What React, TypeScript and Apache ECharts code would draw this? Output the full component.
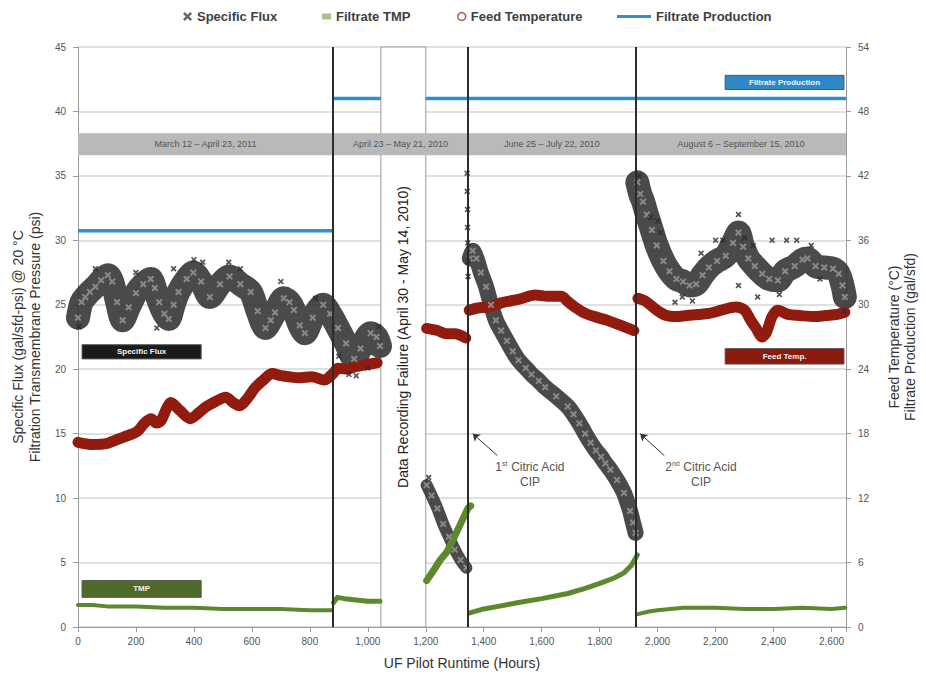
import React, { useEffect, useRef } from "react";
import * as echarts from "echarts";

// ---------- data (hours, value) ----------
const fluxSeg1: [number, number][] = [
  [0, 24.0], [12, 25.2], [25, 25.6], [41, 26.0], [60, 26.4], [80, 26.9], [103, 27.3], [118, 26.8],
  [135, 25.2], [154, 23.8], [175, 24.8], [200, 25.9], [225, 26.6], [251, 27.0], [265, 26.3], [280, 25.2],
  [298, 24.3], [313, 23.9], [330, 25.0], [347, 26.0], [375, 27.0], [398, 27.5], [425, 26.8], [455, 25.6],
  [490, 26.6], [523, 27.2], [560, 26.6], [596, 26.0], [620, 24.5], [647, 23.2], [665, 23.8], [680, 24.4],
  [710, 25.5], [730, 25.2], [745, 24.6], [765, 23.4], [783, 22.8], [810, 24.0], [846, 25.0], [870, 24.3],
  [897, 23.2], [925, 22.0], [953, 20.8], [975, 21.6], [1010, 22.8], [1030, 22.5], [1042, 21.8],
];
const fluxSeg2: [number, number][] = [
  [1203, 11.0], [1220, 10.2], [1240, 9.2], [1260, 8.0], [1280, 7.0], [1300, 6.0], [1320, 5.2], [1340, 4.6],
];
const fluxSeg3: [number, number][] = [
  [1352, 28.6], [1362, 29.2], [1375, 28.6], [1390, 27.5], [1408, 26.4], [1425, 25.0], [1442, 23.8],
  [1460, 23.0], [1480, 22.2], [1500, 21.4], [1520, 20.7], [1545, 20.1], [1565, 19.6], [1590, 19.1],
  [1612, 18.6], [1650, 17.9], [1690, 17.1], [1710, 16.5], [1730, 15.8], [1750, 15.0], [1769, 14.3],
  [1787, 13.7], [1805, 13.2], [1820, 12.7], [1837, 12.2], [1860, 11.4], [1884, 10.4], [1905, 9.0],
  [1915, 8.1], [1924, 7.3],
];
const fluxSeg4: [number, number][] = [
  [1930, 34.5], [1940, 33.6], [1950, 33.0], [1963, 32.0], [1980, 30.8], [1997, 29.6], [2020, 28.4],
  [2041, 27.6], [2065, 27.0], [2088, 26.8], [2110, 26.5], [2133, 26.6], [2155, 27.3], [2177, 27.9],
  [2205, 28.4], [2235, 28.8], [2260, 29.8], [2279, 30.6], [2295, 29.5], [2313, 28.6], [2335, 28.0],
  [2361, 27.4], [2385, 27.0], [2415, 26.9], [2440, 27.6], [2473, 28.0], [2500, 28.5], [2517, 28.6],
  [2545, 28.0], [2575, 27.9], [2605, 27.8], [2625, 27.4], [2638, 26.5], [2646, 25.6],
];
const fluxScatter: [number, number][] = [
  [3, 23.3], [272, 23.2], [1343, 35.2], [1343, 33.8], [1344, 32.4], [1344, 31.0], [1345, 29.8],
  [1346, 28.4], [1346, 27.2], [1210, 11.6], [1936, 35.0], [1975, 31.8], [2000, 31.5], [2010, 30.6],
  [2060, 25.2], [2085, 25.6], [2120, 25.3], [2150, 29.0], [2200, 30.0], [2225, 30.0], [2279, 32.0],
  [2279, 26.5], [2300, 30.2], [2330, 29.6], [2345, 25.6], [2395, 30.0], [2420, 25.8], [2445, 30.0],
  [2480, 30.0], [2530, 29.6], [2560, 27.0], [2644, 24.5], [60, 27.8], [200, 27.5], [330, 27.8],
  [400, 28.5], [430, 28.3], [520, 28.3], [560, 27.8], [700, 26.8], [820, 25.5], [900, 21.0],
  [935, 19.6], [960, 19.5], [1000, 20.1], [1038, 23.3],
];

const tmpSeg1: [number, number][] = [
  [0, 1.7], [50, 1.7], [100, 1.6], [200, 1.6], [300, 1.5], [400, 1.5], [500, 1.4], [600, 1.4],
  [700, 1.4], [800, 1.3], [875, 1.3],
];
const tmpSeg1b: [number, number][] = [[882, 1.9], [895, 2.3], [920, 2.2], [960, 2.1], [1000, 2.0], [1042, 2.0]];
const tmpSeg2: [number, number][] = [
  [1203, 3.6], [1230, 4.5], [1250, 5.2], [1272, 5.8], [1295, 6.8], [1320, 8.0], [1345, 9.2], [1355, 9.4],
];
const tmpSeg3: [number, number][] = [
  [1352, 1.1], [1400, 1.4], [1450, 1.6], [1520, 1.9], [1600, 2.2], [1690, 2.6], [1750, 3.0],
  [1803, 3.4], [1850, 3.8], [1884, 4.2], [1910, 4.8], [1930, 5.6],
];
const tmpSeg4: [number, number][] = [
  [1932, 1.0], [1970, 1.2], [2000, 1.3], [2088, 1.5], [2200, 1.5], [2300, 1.4], [2400, 1.4],
  [2500, 1.5], [2600, 1.4], [2648, 1.5],
];

const feedSeg1: [number, number][] = [
  [0, 17.2], [50, 17.0], [102, 17.1], [130, 17.4], [160, 17.7], [204, 18.2], [230, 19.0], [252, 19.4],
  [270, 19.0], [286, 19.2], [305, 20.3], [320, 20.9], [350, 20.2], [388, 19.4], [415, 19.9], [442, 20.5],
  [475, 21.0], [510, 21.4], [535, 20.9], [558, 20.6], [585, 21.3], [612, 22.3], [640, 23.0], [670, 23.6],
  [700, 23.4], [728, 23.3], [760, 23.2], [806, 23.3], [850, 23.0], [880, 23.6], [898, 24.1], [930, 24.0],
  [952, 24.2], [990, 24.4], [1032, 24.6],
];
const feedSeg2: [number, number][] = [[1203, 27.8], [1240, 27.6], [1272, 27.3], [1300, 27.3], [1338, 26.9]];
const feedSeg3: [number, number][] = [
  [1350, 29.5], [1380, 29.7], [1420, 29.8], [1463, 30.2], [1520, 30.5], [1578, 30.9], [1620, 30.8],
  [1667, 30.8], [1690, 30.3], [1714, 29.8], [1750, 29.2], [1782, 28.9], [1820, 28.6], [1861, 28.2],
  [1890, 27.9], [1918, 27.6],
];
const feedSeg4: [number, number][] = [
  [1932, 30.6], [1960, 30.3], [1997, 29.5], [2030, 29.0], [2065, 28.9], [2100, 29.0], [2140, 29.1],
  [2177, 29.2], [2220, 29.5], [2269, 29.8], [2300, 29.5], [2320, 28.6], [2340, 27.8], [2361, 27.0],
  [2375, 27.4], [2395, 28.9], [2415, 29.5], [2450, 29.1], [2490, 29.0], [2541, 28.9], [2580, 29.0],
  [2620, 29.1], [2646, 29.3],
];

const prodSeg1: [number, number][] = [[0, 36.9], [880, 36.9]];
const prodSeg2: [number, number][] = [[880, 49.2], [1045, 49.2]];
const prodSeg3: [number, number][] = [[1200, 49.2], [2650, 49.2]];

const periodBounds = [0, 880, 1345, 1925, 2650];
const periodLabels = [
  "March 12 – April 23, 2011",
  "April 23 – May 21, 2010",
  "June 25 – July 22, 2010",
  "August 6 – September 15, 2010",
];
const cipHours = [880, 1345, 1925];
const failureRange = [1045, 1200];

const FONT = "'Liberation Sans', Arial, sans-serif";
const X_PATH = "path://M2,0L5,3L8,0L10,2L7,5L10,8L8,10L5,7L2,10L0,8L3,5L0,2Z";

function fluxBand(data: [number, number][], width: number) {
  return {
    name: "Specific Flux",
    type: "line",
    data,
    yAxisIndex: 0,
    z: 3,
    smooth: 0.3,
    symbol: X_PATH,
    symbolSize: 7,
    showSymbol: true,
    showAllSymbol: true,
    silent: true,
    itemStyle: { color: "#8a8a8a" },
    lineStyle: { color: "#2a2a2a", width, opacity: 0.85, cap: "round", join: "round" },
  };
}
function feedBand(data: [number, number][]) {
  return {
    name: "Feed Temperature",
    type: "line",
    data,
    yAxisIndex: 1,
    z: 3,
    smooth: 0.3,
    showSymbol: false,
    silent: true,
    itemStyle: { color: "#8e1a0e" },
    lineStyle: { color: "#921b0f", width: 11, cap: "round", join: "round" },
  };
}
function tmpLine(data: [number, number][], width: number) {
  return {
    name: "Filtrate TMP",
    type: "line",
    data,
    yAxisIndex: 0,
    z: 3,
    showSymbol: false,
    silent: true,
    itemStyle: { color: "#5b8a2e" },
    lineStyle: { color: "#5b8a2e", width, cap: "round", join: "round" },
  };
}
function prodLine(data: [number, number][]) {
  return {
    name: "Filtrate Production",
    type: "line",
    data,
    yAxisIndex: 1,
    z: 3,
    showSymbol: false,
    silent: true,
    itemStyle: { color: "#2f8fd0" },
    lineStyle: { color: "#2f8fd0", width: 3.5 },
  };
}

export default function App() {
  const ref = useRef<HTMLDivElement>(null);
  useEffect(() => {
    document.body.style.margin = "0";
    if (!ref.current) return;
    const chart = echarts.init(ref.current, undefined, { renderer: "svg" });

    const legendText = { fontSize: 13, fontWeight: "bold", color: "#404040", fontFamily: FONT };
    const mkLegend = (left: number, item: any, w: number, h: number) => ({
      top: 10,
      left,
      padding: 0,
      itemWidth: w,
      itemHeight: h,
      textStyle: legendText,
      selectedMode: false,
      data: [item],
    });

    const labelBoxes = [
      { name: "Specific Flux", x: [14, 425], y: [20.8, 21.9], color: "#1b1b1b" },
      { name: "TMP", x: [14, 425], y: [2.3, 3.6], color: "#4e6b2a" },
      { name: "Feed Temp.", x: [2233, 2643], y: [20.4, 21.6], color: "#8b1a0e" },
      { name: "Filtrate Production", x: [2233, 2643], y: [41.7, 42.8], color: "#2f88c6" },
    ];

    const option: any = {
      animation: false,
      backgroundColor: "#ffffff",
      textStyle: { fontFamily: FONT },
      legend: [
        mkLegend(183, { name: "Specific Flux", icon: X_PATH, itemStyle: { color: "#666" } }, 9, 9),
        mkLegend(322, { name: "Filtrate TMP", icon: "path://M0,0h6v4h-6z", itemStyle: { color: "#a9c48a" } }, 9, 9),
        mkLegend(457, {
          name: "Feed Temperature",
          icon: "circle",
          itemStyle: { color: "#ffffff", borderColor: "#c0504d", borderWidth: 1.5 },
        }, 8, 8),
        mkLegend(617, { name: "Filtrate Production", icon: "rect", itemStyle: { color: "#2f8fd0" } }, 34, 3),
      ],
      grid: { left: 78, right: 66, top: 47, bottom: 48 },
      xAxis: {
        type: "value",
        min: 0,
        max: 2650,
        interval: 200,
        name: "UF Pilot Runtime (Hours)",
        nameLocation: "middle",
        nameGap: 29,
        nameTextStyle: { fontSize: 14, color: "#333", fontFamily: FONT },
        axisLine: { onZero: false, lineStyle: { color: "#9a9a9a" } },
        axisTick: { show: true, length: 5, lineStyle: { color: "#9a9a9a" } },
        axisLabel: {
          fontSize: 10,
          color: "#555",
          margin: 9,
          formatter: (v: number) => (v % 200 === 0 ? v.toLocaleString("en-US") : ""),
        },
        splitLine: { show: false },
      },
      yAxis: [
        {
          type: "value",
          min: 0,
          max: 45,
          interval: 5,
          position: "left",
          name: "Specific Flux (gal/sfd-psi) @ 20 °C\nFiltration Transmembrane Pressure (psi)",
          nameLocation: "middle",
          nameRotate: 90,
          nameGap: 33,
          nameTextStyle: { fontSize: 14, color: "#333", lineHeight: 17, fontFamily: FONT },
          axisLine: { show: true, lineStyle: { color: "#9a9a9a" } },
          axisTick: { show: true, length: 5, lineStyle: { color: "#9a9a9a" } },
          axisLabel: { fontSize: 10, color: "#555", margin: 12 },
          splitLine: { show: true, lineStyle: { color: "#d6d6d6", width: 1.5 } },
        },
        {
          type: "value",
          min: 0,
          max: 54,
          interval: 6,
          position: "right",
          name: "Feed Temperature (°C)\nFiltrate Production (gal/sfd)",
          nameLocation: "middle",
          nameRotate: 90,
          nameGap: 40,
          nameTextStyle: { fontSize: 14, color: "#333", lineHeight: 16, fontFamily: FONT },
          axisLine: { show: true, lineStyle: { color: "#9a9a9a" } },
          axisTick: { show: true, length: 5, lineStyle: { color: "#9a9a9a" } },
          axisLabel: { fontSize: 10, color: "#555", margin: 12 },
          splitLine: { show: false },
        },
      ],
      series: [
        // data recording failure box
        {
          type: "line",
          data: [],
          z: 1,
          silent: true,
          markArea: {
            silent: true,
            itemStyle: { color: "#ffffff", borderColor: "#9a9a9a", borderWidth: 1 },
            data: [[{ xAxis: failureRange[0], yAxis: 0 }, { xAxis: failureRange[1], yAxis: 45 }]],
          },
        },
        // period banner
        {
          type: "line",
          data: [],
          z: 2,
          silent: true,
          markArea: {
            silent: true,
            itemStyle: { color: "#b9b9b9" },
            label: { show: true, position: "inside", color: "#555", fontSize: 9, fontFamily: FONT },
            data: periodLabels.map((name, i) => [
              { name, xAxis: periodBounds[i], yAxis: 36.6 },
              { xAxis: periodBounds[i + 1], yAxis: 38.3 },
            ]),
          },
        },
        fluxBand(fluxSeg1, 24),
        fluxBand(fluxSeg2, 12),
        fluxBand(fluxSeg3, 16),
        fluxBand(fluxSeg4, 24),
        {
          name: "Specific Flux",
          type: "scatter",
          data: fluxScatter,
          yAxisIndex: 0,
          z: 3,
          symbol: X_PATH,
          symbolSize: 6,
          silent: true,
          itemStyle: { color: "#2a2a2a" },
        },
        tmpLine(tmpSeg1, 4),
        tmpLine(tmpSeg1b, 5),
        tmpLine(tmpSeg2, 7),
        tmpLine(tmpSeg3, 5),
        tmpLine(tmpSeg4, 4),
        feedBand(feedSeg1),
        feedBand(feedSeg2),
        feedBand(feedSeg3),
        feedBand(feedSeg4),
        prodLine(prodSeg1),
        prodLine(prodSeg2),
        prodLine(prodSeg3),
        // CIP verticals and arrows
        {
          type: "line",
          data: [],
          z: 5,
          silent: true,
          markLine: {
            silent: true,
            symbol: ["none", "none"],
            label: { show: false },
            lineStyle: { color: "#2b2b2b", width: 2, type: "solid" },
            data: cipHours.map((h) => ({ xAxis: h })),
          },
        },
        {
          type: "line",
          data: [],
          z: 5,
          silent: true,
          markLine: {
            silent: true,
            symbol: ["none", "arrow"],
            symbolSize: 7,
            label: { show: false },
            lineStyle: { color: "#333", width: 1, type: "solid" },
            data: [
              [{ coord: [1447, 13.3] }, { coord: [1362, 15.0] }],
              [{ coord: [2023, 13.3] }, { coord: [1940, 15.0] }],
            ],
          },
        },
        // label boxes
        {
          type: "line",
          data: [],
          z: 6,
          silent: true,
          markArea: {
            silent: true,
            label: {
              show: true,
              position: "inside",
              color: "#f2f2f2",
              fontSize: 8,
              fontWeight: "bold",
              fontFamily: FONT,
            },
            data: labelBoxes.map((b) => [
              { name: b.name, xAxis: b.x[0], yAxis: b.y[0], itemStyle: { color: b.color, borderColor: "#555", borderWidth: 1 } },
              { xAxis: b.x[1], yAxis: b.y[1] },
            ]),
          },
        },
      ],
    };

    chart.setOption(option);

    const px = (h: number, v: number) => chart.convertToPixel({ xAxisIndex: 0, yAxisIndex: 0 }, [h, v]) as number[];
    const fail = px((failureRange[0] + failureRange[1]) / 2, 22.5);
    const cip1 = px(1560, 11.8);
    const cip2 = px(2150, 11.8);
    const cipStyle = (t: string) => ({
      text: t,
      fontSize: 12,
      fill: "#555",
      fontFamily: FONT,
      align: "center",
      verticalAlign: "middle",
      lineHeight: 15,
      rich: {
        s: { fontSize: 7, fill: "#555", verticalAlign: "top", lineHeight: 15 },
        n: { fontSize: 12, fill: "#555", lineHeight: 15 },
      },
    });
    chart.setOption({
      graphic: [
        {
          type: "text",
          x: fail[0],
          y: fail[1],
          rotation: Math.PI / 2,
          z: 10,
          silent: true,
          style: {
            text: "Data Recording Failure (April 30 - May 14, 2010)",
            fontSize: 14,
            fill: "#222",
            fontFamily: FONT,
            align: "center",
            verticalAlign: "middle",
          },
        },
        { type: "text", x: cip1[0], y: cip1[1], z: 10, silent: true, style: cipStyle("{n|1}{s|st}{n| Citric Acid}\n{n|CIP}") },
        { type: "text", x: cip2[0], y: cip2[1], z: 10, silent: true, style: cipStyle("{n|2}{s|nd}{n| Citric Acid}\n{n|CIP}") },
      ],
    });

    return () => chart.dispose();
  }, []);
  return <div ref={ref} style={{ position: "fixed", left: 0, top: 0, width: 926, height: 675 }} />;
}
